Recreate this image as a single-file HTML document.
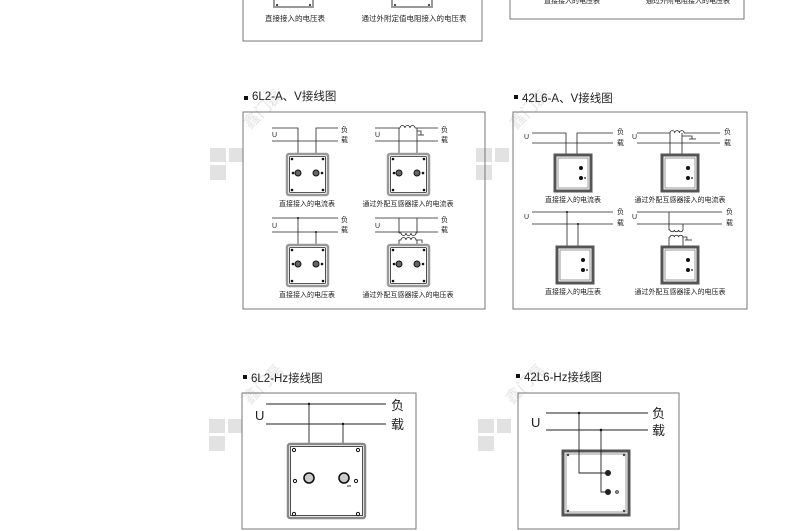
<!DOCTYPE html>
<html><head><meta charset="utf-8"><style>
html,body{margin:0;padding:0;background:#fff;width:790px;height:531px;overflow:hidden}
svg{display:block}
text{font-family:"Liberation Sans","Noto Sans CJK SC",sans-serif;fill:#222}
</style></head><body>
<svg width="790" height="531" viewBox="0 0 790 531" xmlns="http://www.w3.org/2000/svg">
<defs>
<g id="m6">
<rect x="0" y="0" width="41" height="41" rx="2" fill="#fff" stroke="#999" stroke-width="2.5"/>
<rect x="2.5" y="2.5" width="36" height="36" rx="1" fill="none" stroke="#222" stroke-width="0.8"/>
<circle cx="5" cy="5" r="1.3" fill="#111"/><circle cx="36" cy="5" r="1.3" fill="#111"/>
<circle cx="5" cy="36" r="1.3" fill="#111"/><circle cx="36" cy="36" r="1.3" fill="#111"/>
<circle cx="6" cy="19" r="1.3" fill="#111"/><circle cx="35" cy="19" r="1.3" fill="#111"/>
<circle cx="11" cy="19" r="3" fill="#666" stroke="#111" stroke-width="1"/>
<circle cx="29" cy="19" r="3" fill="#666" stroke="#111" stroke-width="1"/>
</g>
<g id="m42">
<rect x="0" y="0" width="36" height="36" fill="#fff" stroke="#555" stroke-width="3"/>
<rect x="3" y="3" width="30" height="30" fill="none" stroke="#999" stroke-width="1"/>
<circle cx="26" cy="13" r="2" fill="#111"/>
<circle cx="26" cy="23" r="2" fill="#111"/>
<circle cx="30" cy="23" r="0.9" fill="#111"/>
</g>
<g id="wm">
<rect x="0" y="0" width="16" height="14" fill="#e2e2e2"/>
<rect x="19" y="0" width="14" height="14" fill="#e2e2e2"/>
<rect x="0" y="17" width="16" height="15" fill="#e2e2e2"/>
</g>
</defs>

<use href="#wm" x="210" y="148"/>
<use href="#wm" x="476" y="148"/>
<use href="#wm" x="209" y="419"/>
<use href="#wm" x="478" y="419"/>
<text x="250" y="130" transform="rotate(-45 250 130)" font-size="16" style="fill:#e6e6e6">鑫门磊</text>
<text x="516" y="130" transform="rotate(-45 516 130)" font-size="16" style="fill:#e6e6e6">鑫门磊</text>
<text x="250" y="405" transform="rotate(-45 250 405)" font-size="16" style="fill:#e6e6e6">鑫门磊</text>
<text x="512" y="405" transform="rotate(-45 512 405)" font-size="16" style="fill:#e6e6e6">鑫门磊</text>

<g fill="none" stroke="#777" stroke-width="1">
<polyline points="243,0 243,41 482,41 482,0"/>
<polyline points="510,0 510,19 744,19 744,0"/>
<rect x="274" y="-6" width="39" height="13" stroke="#999" stroke-width="2"/>
<rect x="392" y="-6" width="40" height="13" stroke="#999" stroke-width="2"/>
</g>
<circle cx="277" cy="5" r="1" fill="#111"/><circle cx="310" cy="5" r="1" fill="#111"/>
<circle cx="395" cy="5" r="1" fill="#111"/><circle cx="429" cy="5" r="1" fill="#111"/>
<text x="295" y="21" font-size="7.5" text-anchor="middle">直接接入的电压表</text>
<text x="414" y="21" font-size="7.5" text-anchor="middle">通过外附定值电阻接入的电压表</text>
<text x="572" y="3" font-size="7" text-anchor="middle">直接接入的电压表</text>
<text x="688" y="3" font-size="7" text-anchor="middle">通过外附电阻接入的电压表</text>

<!-- 6L2-A.V -->
<rect x="244" y="96" width="4" height="4" fill="#111"/>
<text x="252" y="100" font-size="11.5">6L2-A、V接线图</text>
<rect x="243" y="112" width="242" height="197" fill="none" stroke="#777"/>
<g stroke="#222" stroke-width="0.8" fill="none">
<polyline points="272,128 298,128 298,173"/>
<polyline points="316,173 316,128 338,128"/>
<line x1="272" y1="141" x2="338" y2="141"/>
<line x1="375" y1="128" x2="400" y2="128"/><line x1="415" y1="128" x2="438" y2="128"/>
<path d="M400,128 a2.5,2.5 0 0 1 5,0 a2.5,2.5 0 0 1 5,0 a2.5,2.5 0 0 1 5,0"/>
<line x1="375" y1="141" x2="438" y2="141"/>
<line x1="399" y1="128" x2="399" y2="173"/>
<line x1="417" y1="128" x2="417" y2="173"/>
<polyline points="417,131 421,131 421,135"/>
<line x1="418" y1="135" x2="424" y2="135"/>
<line x1="272" y1="218" x2="338" y2="218"/>
<line x1="272" y1="232" x2="338" y2="232"/>
<line x1="298" y1="218" x2="298" y2="264"/>
<line x1="316" y1="232" x2="316" y2="264"/>
<line x1="375" y1="218" x2="438" y2="218"/>
<line x1="375" y1="232" x2="438" y2="232"/>
<line x1="399" y1="218" x2="399" y2="233"/>
<line x1="417" y1="218" x2="417" y2="233"/>
<path d="M399,233 h2 a2.5,2.5 0 0 0 5,0 a2.5,2.5 0 0 0 5,0 a2.5,2.5 0 0 0 5,0 h1"/>
<path d="M399,240 h2 a2.5,2.5 0 0 1 5,0 a2.5,2.5 0 0 1 5,0 a2.5,2.5 0 0 1 5,0 h6 v3"/>
<line x1="399" y1="240" x2="399" y2="264"/>
<line x1="417" y1="240" x2="417" y2="264"/>
</g>
<circle cx="298" cy="218" r="1" fill="#111"/><circle cx="316" cy="232" r="1" fill="#111"/>
<use href="#m6" x="287" y="154"/><use href="#m6" x="388" y="154"/>
<use href="#m6" x="287" y="245"/><use href="#m6" x="388" y="245"/>
<g font-size="7">
<text x="272" y="137">U</text><text x="375" y="137">U</text>
<text x="272" y="228">U</text><text x="375" y="228">U</text>
<text x="341" y="132">负</text><text x="341" y="142">载</text>
<text x="441" y="132">负</text><text x="441" y="142">载</text>
<text x="341" y="222">负</text><text x="341" y="232">载</text>
<text x="441" y="222">负</text><text x="441" y="232">载</text>
<text x="307" y="206" text-anchor="middle">直接接入的电流表</text>
<text x="408" y="206" text-anchor="middle">通过外配互感器接入的电流表</text>
<text x="307" y="297" text-anchor="middle">直接接入的电压表</text>
<text x="408" y="297" text-anchor="middle">通过外配互感器接入的电压表</text>
</g>

<!-- 42L6-A.V -->
<rect x="514" y="95" width="4" height="4" fill="#111"/>
<text x="522" y="102" font-size="11.5">42L6-A、V接线图</text>
<rect x="513" y="112" width="234" height="197" fill="none" stroke="#777"/>
<g stroke="#222" stroke-width="0.8" fill="none">
<polyline points="532,133 566,133 566,168 581,168"/>
<polyline points="613,133 577,133 577,178 581,178"/>
<line x1="532" y1="143" x2="613" y2="143"/>
<line x1="637" y1="133" x2="670" y2="133"/><line x1="684" y1="133" x2="720" y2="133"/>
<path d="M670,133 a2.3,2.3 0 0 1 4.7,0 a2.3,2.3 0 0 1 4.7,0 a2.3,2.3 0 0 1 4.7,0"/>
<line x1="637" y1="143" x2="720" y2="143"/>
<polyline points="670,133 670,168 688,168"/>
<polyline points="682,133 682,178 688,178"/>
<polyline points="682,136 692,136 692,139"/><line x1="689" y1="139" x2="696" y2="139"/>
<line x1="532" y1="212" x2="613" y2="212"/><line x1="532" y1="224" x2="613" y2="224"/>
<polyline points="567,212 567,259 583,259"/>
<polyline points="578,224 578,269 583,269"/>
<line x1="637" y1="212" x2="722" y2="212"/><line x1="637" y1="224" x2="722" y2="224"/>
<line x1="669" y1="212" x2="669" y2="230"/><line x1="683" y1="224" x2="683" y2="230"/>
<path d="M669,230 h1 a2.2,2.2 0 0 0 4.3,0 a2.2,2.2 0 0 0 4.3,0 a2.2,2.2 0 0 0 4.3,0"/>
<path d="M669,237 h1 a2.2,2.2 0 0 1 4.3,0 a2.2,2.2 0 0 1 4.3,0 a2.2,2.2 0 0 1 4.3,0 h4 v3"/>
<line x1="685" y1="240" x2="692" y2="240"/>
<polyline points="669,237 669,260 688,260"/>
<polyline points="683,237 683,270 688,270"/>
</g>
<circle cx="567" cy="212" r="1" fill="#111"/><circle cx="578" cy="224" r="1" fill="#111"/>
<use href="#m42" x="555" y="155"/><use href="#m42" x="662" y="155"/>
<use href="#m42" x="557" y="247"/><use href="#m42" x="662" y="247"/>
<g font-size="7">
<text x="524" y="139">U</text><text x="632" y="139">U</text>
<text x="524" y="219">U</text><text x="632" y="219">U</text>
<text x="617" y="134">负</text><text x="617" y="145">载</text>
<text x="724" y="134">负</text><text x="724" y="145">载</text>
<text x="617" y="214">负</text><text x="617" y="225">载</text>
<text x="726" y="214">负</text><text x="726" y="225">载</text>
<text x="573" y="202" text-anchor="middle">直接接入的电流表</text>
<text x="680" y="202" text-anchor="middle">通过外配互感器接入的电流表</text>
<text x="573" y="294" text-anchor="middle">直接接入的电压表</text>
<text x="680" y="294" text-anchor="middle">通过外配互感器接入的电压表</text>
</g>

<!-- 6L2-Hz -->
<rect x="243" y="375" width="4" height="4" fill="#111"/>
<text x="251" y="382" font-size="11.5">6L2-Hz接线图</text>
<rect x="242" y="393" width="174" height="136" fill="none" stroke="#777"/>
<g stroke="#222" stroke-width="0.9" fill="none">
<line x1="266" y1="404" x2="386" y2="404"/>
<line x1="266" y1="424" x2="386" y2="424"/>
<line x1="309" y1="404" x2="309" y2="478"/>
<line x1="343" y1="424" x2="343" y2="478"/>
</g>
<circle cx="309" cy="404" r="1.2" fill="#111"/><circle cx="343" cy="424" r="1.2" fill="#111"/>
<rect x="288" y="444" width="77" height="74" rx="2" fill="#fff" stroke="#888" stroke-width="2.5"/>
<rect x="290.5" y="446.5" width="72" height="69" fill="none" stroke="#222" stroke-width="0.8"/>
<g fill="#fff" stroke="#111" stroke-width="1">
<circle cx="294" cy="450" r="1.6"/><circle cx="358" cy="450" r="1.6"/>
<circle cx="294" cy="514" r="1.6"/><circle cx="358" cy="514" r="1.6"/>
<circle cx="295" cy="481" r="1.6"/><circle cx="356" cy="481" r="1.6"/>
<circle cx="309" cy="478" r="5" fill="#ccc" stroke-width="1.6"/>
<circle cx="344" cy="478" r="5" fill="#ccc" stroke-width="1.6"/>
</g>
<line x1="347" y1="486" x2="351" y2="486" stroke="#333"/>
<text x="255" y="420" font-size="13">U</text>
<text x="391" y="410" font-size="13">负</text>
<text x="391" y="429" font-size="13">载</text>

<!-- 42L6-Hz -->
<rect x="516" y="374" width="4" height="4" fill="#111"/>
<text x="524" y="381" font-size="11.5">42L6-Hz接线图</text>
<rect x="518" y="393" width="161" height="136" fill="none" stroke="#777"/>
<g stroke="#222" stroke-width="0.9" fill="none">
<line x1="546" y1="413" x2="648" y2="413"/>
<line x1="546" y1="430" x2="648" y2="430"/>
</g>
<rect x="563" y="451" width="66" height="64" fill="#fff" stroke="#555" stroke-width="3"/>
<rect x="566" y="454" width="60" height="58" fill="none" stroke="#999" stroke-width="1"/>
<g stroke="#222" stroke-width="0.9" fill="none">
<polyline points="579,413 579,473 608,473"/>
<polyline points="601,430 601,492 608,492"/>
</g>
<circle cx="579" cy="413" r="1.3" fill="#111"/><circle cx="601" cy="430" r="1.3" fill="#111"/>
<circle cx="608" cy="473" r="3" fill="#222"/><circle cx="608" cy="492" r="3" fill="#222"/>
<circle cx="617" cy="492" r="1.3" fill="#fff" stroke="#222"/>
<circle cx="568" cy="455" r="1.2" fill="#444"/><circle cx="624" cy="455" r="1.2" fill="#444"/>
<circle cx="568" cy="511" r="1.2" fill="#444"/><circle cx="624" cy="511" r="1.2" fill="#444"/>
<text x="531" y="427" font-size="13">U</text>
<text x="652" y="418" font-size="13">负</text>
<text x="652" y="435" font-size="13">载</text>
</svg>
</body></html>
